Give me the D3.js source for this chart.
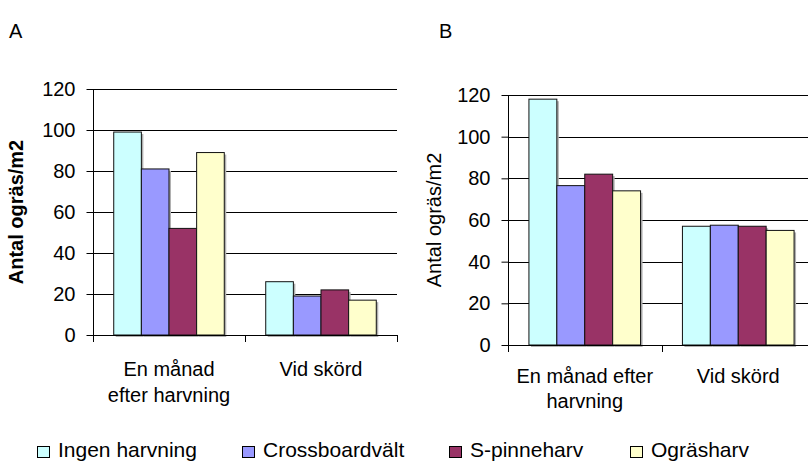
<!DOCTYPE html>
<html>
<head>
<meta charset="utf-8">
<script src="https://cdn.jsdelivr.net/npm/d3@7"></script>
<style>
  html, body { margin: 0; padding: 0; background: #fff; }
  svg { display: block; }
  text { font-family: "Liberation Sans", Arial, sans-serif; fill: #000; }
</style>
</head>
<body>
<svg id="chart" width="808" height="462"></svg>
<script>
// ---- data ----
const categories = ["En månad efter harvning", "Vid skörd"];
const seriesNames = ["Ingen harvning", "Crossboardvält", "S-pinneharv", "Ogräsharv"];
const seriesColors = ["#CCFFFF", "#9999FF", "#993366", "#FFFFCC"];
const yTicks = [0, 20, 40, 60, 80, 100, 120];

// Panel A values (per series, per category)
const ingenA = [99, 26];
const crossA = [81, 19];
const spinA  = [52, 22];
const ograsA = [89, 17];

// Panel B values
const ingenB = [118, 57];
const crossB = [76.5, 57.5];
const spinB  = [82, 57];
const ograsB = [74, 55];

const catLabelsA = [["En månad", "efter harvning"], ["Vid skörd"]];
const catLabelsB = [["En månad efter", "harvning"], ["Vid skörd"]];

const svg = d3.select("#chart");

function panel(opts) {
  const { left, right, top, bottom, values, catLines, title, titleX, yTitle, yTitleBold, yTitleX, lineGap, catBaseline } = opts;
  const g = svg.append("g");
  const x = d3.scaleBand().domain(categories).range([left, right]).padding(0);
  const W = x.bandwidth();
  const gapHalf = W * 0.75 / 5.5;
  const xs = d3.scaleBand().domain(seriesNames).range([gapHalf, W - gapHalf]).padding(0);
  const y = d3.scaleLinear().domain([0, 120]).range([bottom, top]);

  // gridlines
  g.append("g").selectAll("line").data(yTicks.filter(t => t > 0)).join("line")
    .attr("x1", left).attr("x2", right)
    .attr("y1", d => Math.round(y(d)) + 0.5).attr("y2", d => Math.round(y(d)) + 0.5)
    .attr("stroke", "#000").attr("stroke-width", 1);

  // bars
  const data = [];
  seriesNames.forEach((s, si) => {
    categories.forEach((c, ci) => data.push({ s, si, c, v: values[si][ci] }));
  });
  // shadow
  g.append("g").selectAll("rect").data(data).join("rect")
    .attr("x", d => x(d.c) + xs(d.s) + 2)
    .attr("y", d => y(d.v) + 2)
    .attr("width", xs.bandwidth())
    .attr("height", d => y(0) - y(d.v))
    .attr("fill", "#b0b0b0");
  g.append("g").selectAll("rect").data(data).join("rect")
    .attr("x", d => x(d.c) + xs(d.s))
    .attr("y", d => y(d.v))
    .attr("width", xs.bandwidth())
    .attr("height", d => y(0) - y(d.v))
    .attr("fill", d => seriesColors[d.si])
    .attr("stroke", "#111").attr("stroke-width", 1);

  // y axis
  const yAxis = d3.axisLeft(y).tickValues(yTicks).tickSize(7).tickPadding(11).tickFormat(d3.format("d"));
  const ya = g.append("g").attr("transform", `translate(${Math.round(left) + 0.5},0)`).call(yAxis);
  ya.select(".domain").remove();
  ya.selectAll(".tick line").attr("stroke", "#000");
  ya.selectAll(".tick text").attr("font-size", 20).attr("font-family", "Liberation Sans, Arial, sans-serif").attr("fill", "#000");
  // axis vertical line extending below
  g.append("line").attr("x1", Math.round(left) + 0.5).attr("x2", Math.round(left) + 0.5)
    .attr("y1", top).attr("y2", bottom + 7).attr("stroke", "#000");

  // x axis
  g.append("line").attr("x1", left).attr("x2", right)
    .attr("y1", Math.round(bottom) + 0.5).attr("y2", Math.round(bottom) + 0.5)
    .attr("stroke", "#000");
  const bounds = [left, ...categories.map(c => x(c) + W)];
  g.append("g").selectAll("line").data(bounds).join("line")
    .attr("x1", d => Math.round(d) + 0.5).attr("x2", d => Math.round(d) + 0.5)
    .attr("y1", bottom).attr("y2", bottom + 7).attr("stroke", "#000");

  // category labels
  categories.forEach((c, ci) => {
    const t = g.append("text").attr("text-anchor", "middle").attr("font-size", 20)
      .attr("x", x(c) + W / 2).attr("y", catBaseline);
    catLines[ci].forEach((ln, li) => {
      t.append("tspan").attr("x", x(c) + W / 2).attr("y", catBaseline + li * lineGap).text(ln);
    });
  });

  // y title
  g.append("text").attr("transform", `translate(${yTitleX},${(top + bottom) / 2}) rotate(-90)`)
    .attr("text-anchor", "middle").attr("font-size", 20)
    .attr("font-weight", yTitleBold ? "bold" : "normal").text(yTitle);

  // panel letter
  svg.append("text").attr("x", titleX).attr("y", 38).attr("font-size", 20).text(title);
}

panel({
  left: 93, right: 397, top: 89, bottom: 335,
  values: [ingenA, crossA, spinA, ograsA],
  catLines: catLabelsA, title: "A", titleX: 9,
  yTitle: "Antal ogräs/m2", yTitleBold: true, yTitleX: 23,
  lineGap: 26, catBaseline: 376
});
panel({
  left: 508, right: 815, top: 95, bottom: 345,
  values: [ingenB, crossB, spinB, ograsB],
  catLines: catLabelsB, title: "B", titleX: 439,
  yTitle: "Antal ogräs/m2", yTitleBold: false, yTitleX: 441,
  lineGap: 25, catBaseline: 383
});

// legend
const legendX = [37, 242, 449, 630];
const lg = svg.append("g");
seriesNames.forEach((s, i) => {
  lg.append("rect").attr("x", legendX[i] + 0.5).attr("y", 446.5).attr("width", 12).attr("height", 11)
    .attr("fill", seriesColors[i]).attr("stroke", "#000");
  lg.append("text").attr("x", legendX[i] + 21).attr("y", 457).attr("font-size", 21).text(s);
});
</script>
</body>
</html>
